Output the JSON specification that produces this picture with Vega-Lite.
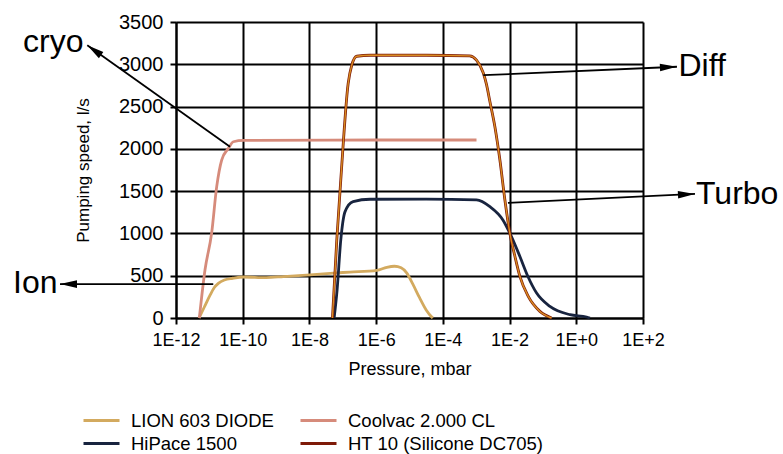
{
  "$schema": "https://vega.github.io/schema/vega-lite/v6.json",
  "width": 467,
  "height": 296,
  "autosize": {"type": "none"},
  "padding": {"left": 176, "top": 22, "right": 140, "bottom": 136},
  "background": "white",
  "config": {
    "font": "Liberation Sans",
    "view": {"stroke": null},
    "axis": {
      "grid": true, "gridColor": "#000000", "gridWidth": 2, "gridOpacity": 1,
      "domainColor": "#000000", "domainWidth": 2,
      "tickColor": "#000000", "tickWidth": 2, "tickSize": 6,
      "labelColor": "#000000", "titleColor": "#000000", "titleFontWeight": "normal",
      "labelFlush": false, "labelOverlap": false, "labelBound": false
    }
  },
  "datasets": {
    "curves": [
      {"series": "LION 603 DIODE", "p": 4.90e-12, "s": 0},
      {"series": "LION 603 DIODE", "p": 7.08e-12, "s": 130},
      {"series": "LION 603 DIODE", "p": 1.05e-11, "s": 270},
      {"series": "LION 603 DIODE", "p": 1.41e-11, "s": 360},
      {"series": "LION 603 DIODE", "p": 1.86e-11, "s": 410},
      {"series": "LION 603 DIODE", "p": 2.82e-11, "s": 450},
      {"series": "LION 603 DIODE", "p": 5.01e-11, "s": 470},
      {"series": "LION 603 DIODE", "p": 1.05e-10, "s": 485},
      {"series": "LION 603 DIODE", "p": 5.01e-10, "s": 478},
      {"series": "LION 603 DIODE", "p": 1.66e-9, "s": 490},
      {"series": "LION 603 DIODE", "p": 1.05e-8, "s": 511},
      {"series": "LION 603 DIODE", "p": 5.25e-8, "s": 531},
      {"series": "LION 603 DIODE", "p": 1.66e-7, "s": 543},
      {"series": "LION 603 DIODE", "p": 1.05e-6, "s": 564},
      {"series": "LION 603 DIODE", "p": 2.09e-6, "s": 600},
      {"series": "LION 603 DIODE", "p": 3.55e-6, "s": 612},
      {"series": "LION 603 DIODE", "p": 5.62e-6, "s": 595},
      {"series": "LION 603 DIODE", "p": 8.32e-6, "s": 531},
      {"series": "LION 603 DIODE", "p": 1.26e-5, "s": 400},
      {"series": "LION 603 DIODE", "p": 2.0e-5, "s": 240},
      {"series": "LION 603 DIODE", "p": 3.16e-5, "s": 95},
      {"series": "LION 603 DIODE", "p": 4.68e-5, "s": 10},
      {"series": "LION 603 DIODE", "p": 5.01e-5, "s": 0},

      {"series": "Coolvac 2.000 CL", "p": 5.01e-12, "s": 0},
      {"series": "Coolvac 2.000 CL", "p": 7.41e-12, "s": 570},
      {"series": "Coolvac 2.000 CL", "p": 1.17e-11, "s": 1003},
      {"series": "Coolvac 2.000 CL", "p": 1.66e-11, "s": 1553},
      {"series": "Coolvac 2.000 CL", "p": 2.34e-11, "s": 1868},
      {"series": "Coolvac 2.000 CL", "p": 3.72e-11, "s": 2006},
      {"series": "Coolvac 2.000 CL", "p": 5.25e-11, "s": 2084},
      {"series": "Coolvac 2.000 CL", "p": 1.05e-10, "s": 2100},
      {"series": "Coolvac 2.000 CL", "p": 1.0e-6, "s": 2105},
      {"series": "Coolvac 2.000 CL", "p": 1.02e-3, "s": 2105},

      {"series": "HiPace 1500", "p": 5.50e-8, "s": 0},
      {"series": "HiPace 1500", "p": 6.76e-8, "s": 334},
      {"series": "HiPace 1500", "p": 8.71e-8, "s": 924},
      {"series": "HiPace 1500", "p": 1.17e-7, "s": 1258},
      {"series": "HiPace 1500", "p": 2.04e-7, "s": 1376},
      {"series": "HiPace 1500", "p": 6.61e-7, "s": 1404},
      {"series": "HiPace 1500", "p": 3.16e-5, "s": 1405},
      {"series": "HiPace 1500", "p": 1.02e-3, "s": 1396},
      {"series": "HiPace 1500", "p": 2.57e-3, "s": 1317},
      {"series": "HiPace 1500", "p": 6.31e-3, "s": 1160},
      {"series": "HiPace 1500", "p": 1.02e-2, "s": 1003},
      {"series": "HiPace 1500", "p": 2.04e-2, "s": 727},
      {"series": "HiPace 1500", "p": 3.55e-2, "s": 491},
      {"series": "HiPace 1500", "p": 6.46e-2, "s": 295},
      {"series": "HiPace 1500", "p": 0.162, "s": 137},
      {"series": "HiPace 1500", "p": 0.646, "s": 39},
      {"series": "HiPace 1500", "p": 2.04, "s": 12},
      {"series": "HiPace 1500", "p": 2.57, "s": 0},

      {"series": "HT 10 (Silicone DC705)", "p": 4.90e-8, "s": 0},
      {"series": "HT 10 (Silicone DC705)", "p": 6.61e-8, "s": 924},
      {"series": "HT 10 (Silicone DC705)", "p": 8.71e-8, "s": 1633},
      {"series": "HT 10 (Silicone DC705)", "p": 1.45e-7, "s": 2773},
      {"series": "HT 10 (Silicone DC705)", "p": 1.86e-7, "s": 2990},
      {"series": "HT 10 (Silicone DC705)", "p": 2.63e-7, "s": 3095},
      {"series": "HT 10 (Silicone DC705)", "p": 6.61e-7, "s": 3107},
      {"series": "HT 10 (Silicone DC705)", "p": 3.16e-5, "s": 3107},
      {"series": "HT 10 (Silicone DC705)", "p": 6.31e-4, "s": 3100},
      {"series": "HT 10 (Silicone DC705)", "p": 1.02e-3, "s": 3050},
      {"series": "HT 10 (Silicone DC705)", "p": 1.62e-3, "s": 2900},
      {"series": "HT 10 (Silicone DC705)", "p": 2.04e-3, "s": 2760},
      {"series": "HT 10 (Silicone DC705)", "p": 2.57e-3, "s": 2560},
      {"series": "HT 10 (Silicone DC705)", "p": 3.63e-3, "s": 2261},
      {"series": "HT 10 (Silicone DC705)", "p": 5.13e-3, "s": 1868},
      {"series": "HT 10 (Silicone DC705)", "p": 7.24e-3, "s": 1396},
      {"series": "HT 10 (Silicone DC705)", "p": 1.02e-2, "s": 1003},
      {"series": "HT 10 (Silicone DC705)", "p": 1.45e-2, "s": 727},
      {"series": "HT 10 (Silicone DC705)", "p": 2.04e-2, "s": 491},
      {"series": "HT 10 (Silicone DC705)", "p": 3.63e-2, "s": 255},
      {"series": "HT 10 (Silicone DC705)", "p": 8.13e-2, "s": 78},
      {"series": "HT 10 (Silicone DC705)", "p": 0.182, "s": 0}
    ],
    "ann": [
      {"label": "cryo", "x": 4.16e-11, "y": 2025, "x2": 2.19e-15, "y2": 3225, "hx": 3.53e-15, "hy": 3167, "tx": 2.59e-17, "ty": 3146},
      {"label": "Diff", "x": 1.63e-3, "y": 2871, "x2": 1042, "y2": 2971, "hx": 579, "hy": 2967, "tx": 1156, "ty": 2859},
      {"label": "Turbo", "x": 8.95e-3, "y": 1361, "x2": 3614, "y2": 1467, "hx": 2009, "hy": 1462, "tx": 3873, "ty": 1349},
      {"label": "Ion", "x": 1.31e-11, "y": 401, "x2": 3.33e-16, "y2": 401, "hx": 6.0e-16, "hy": 401, "tx": 1.30e-17, "ty": 299}
    ]
  },
  "layer": [
    {
      "data": {"name": "curves"},
      "mark": {"type": "line", "interpolate": "monotone", "strokeWidth": 2.8},
      "encoding": {
        "x": {"field": "p", "type": "quantitative",
          "scale": {"type": "log", "domain": [1e-12, 100], "nice": false},
          "axis": {
            "values": [1e-12, 1e-10, 1e-8, 1e-6, 1e-4, 1e-2, 1, 100],
            "labelExpr": "(datum.value >= 1 ? '1E+' : '1E') + round(log(datum.value) / LN10)",
            "labelFontSize": 18, "labelPadding": 7,
            "title": "Pressure, mbar", "titleFontSize": 18, "titlePadding": 11
          }},
        "y": {"field": "s", "type": "quantitative",
          "scale": {"domain": [0, 3500], "nice": false},
          "axis": {
            "values": [0, 500, 1000, 1500, 2000, 2500, 3000, 3500],
            "format": "d",
            "labelFontSize": 20, "labelPadding": 7,
            "title": "Pumping speed, l/s", "titleFontSize": 17, "titlePadding": 26
          }},
        "color": {"field": "series", "type": "nominal",
          "scale": {
            "domain": ["LION 603 DIODE", "Coolvac 2.000 CL", "HiPace 1500", "HT 10 (Silicone DC705)"],
            "range": ["#D3AA5F", "#D68B7B", "#18243F", "#7E1A08"]
          },
          "legend": {
            "title": null, "orient": "none", "legendX": -86, "legendY": 387,
            "columns": 2, "direction": "horizontal",
            "symbolType": "M-1.8,0L1.8,0", "symbolSize": 400, "symbolStrokeWidth": 3,
            "labelFontSize": 18.5, "labelColor": "#000000", "labelOffset": 18,
            "labelLimit": 300, "columnPadding": 20, "rowPadding": 2, "padding": 0
          }}
      }
    },
    {
      "data": {"name": "curves"},
      "transform": [{"filter": "datum.series === 'HT 10 (Silicone DC705)'"}],
      "mark": {"type": "line", "color": "#D98C22", "strokeWidth": 1.4, "interpolate": "monotone"},
      "encoding": {
        "x": {"field": "p", "type": "quantitative"},
        "y": {"field": "s", "type": "quantitative"}
      }
    },
    {
      "data": {"name": "ann"},
      "mark": {"type": "rule", "color": "#000000", "strokeWidth": 1.8},
      "encoding": {
        "x": {"field": "x", "type": "quantitative"},
        "y": {"field": "y", "type": "quantitative"},
        "x2": {"field": "x2"},
        "y2": {"field": "y2"}
      }
    },
    {
      "data": {"name": "ann"},
      "transform": [{"filter": "datum.label === 'cryo'"}],
      "mark": {"type": "point", "shape": "M1,0L-1,-0.45L-1,0.45Z", "size": 289, "filled": true, "color": "#000000", "opacity": 1, "angle": 215.5},
      "encoding": {
        "x": {"field": "hx", "type": "quantitative"},
        "y": {"field": "hy", "type": "quantitative"}
      }
    },
    {
      "data": {"name": "ann"},
      "transform": [{"filter": "datum.label === 'Diff'"}],
      "mark": {"type": "point", "shape": "M1,0L-1,-0.45L-1,0.45Z", "size": 289, "filled": true, "color": "#000000", "opacity": 1, "angle": 357.5},
      "encoding": {
        "x": {"field": "hx", "type": "quantitative"},
        "y": {"field": "hy", "type": "quantitative"}
      }
    },
    {
      "data": {"name": "ann"},
      "transform": [{"filter": "datum.label === 'Turbo'"}],
      "mark": {"type": "point", "shape": "M1,0L-1,-0.45L-1,0.45Z", "size": 289, "filled": true, "color": "#000000", "opacity": 1, "angle": 357.2},
      "encoding": {
        "x": {"field": "hx", "type": "quantitative"},
        "y": {"field": "hy", "type": "quantitative"}
      }
    },
    {
      "data": {"name": "ann"},
      "transform": [{"filter": "datum.label === 'Ion'"}],
      "mark": {"type": "point", "shape": "M1,0L-1,-0.45L-1,0.45Z", "size": 289, "filled": true, "color": "#000000", "opacity": 1, "angle": 180},
      "encoding": {
        "x": {"field": "hx", "type": "quantitative"},
        "y": {"field": "hy", "type": "quantitative"}
      }
    },
    {
      "data": {"name": "ann"},
      "mark": {"type": "text", "align": "left", "baseline": "alphabetic", "fontSize": 32, "color": "#000000"},
      "encoding": {
        "x": {"field": "tx", "type": "quantitative"},
        "y": {"field": "ty", "type": "quantitative"},
        "text": {"field": "label", "type": "nominal"}
      }
    }
  ]
}
